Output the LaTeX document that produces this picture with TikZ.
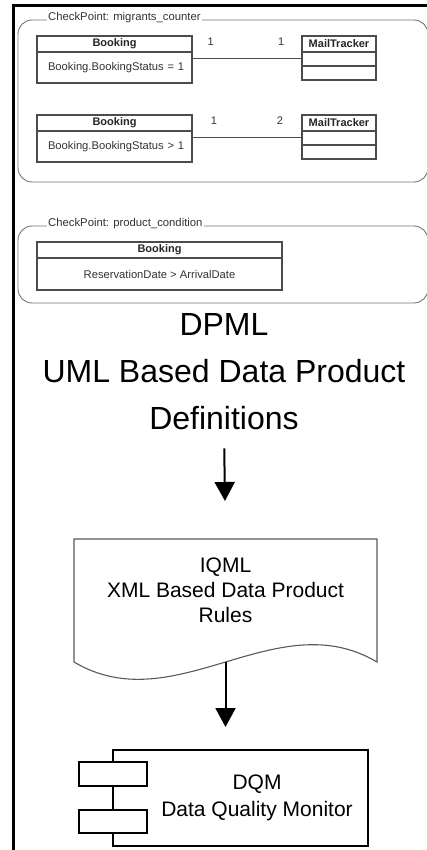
\documentclass[tikz,border=0pt]{standalone}
\usepackage{fontspec}
\setmainfont{Liberation Sans}
\usetikzlibrary{arrows.meta, positioning, calc}

\begin{document}
\begin{tikzpicture}[
    x=1pt, y=-1pt,
    % --- UML class parts ---
    classhead/.style = {rectangle, draw=black!70, line width=1.1pt, fill=white,
        minimum width=#1, minimum height=16pt, inner sep=0pt, outer sep=0pt,
        font=\fontsize{11}{12}\selectfont\bfseries, text=black!85},
    classbody/.style = {rectangle, draw=black!70, line width=1.1pt, fill=white,
        minimum width=#1, minimum height=31pt, inner sep=0pt, outer sep=0pt,
        font=\fontsize{11.2}{13}\selectfont, text=black!80},
    classrow/.style = {rectangle, draw=black!70, line width=1.1pt,
        minimum width=74pt, minimum height=14pt, inner sep=0pt, outer sep=0pt},
    mult/.style = {font=\fontsize{11}{12}\selectfont, text=black!80, yshift=17pt},
    assoc/.style = {draw=black!70, line width=1pt},
    % --- CheckPoint frames ---
    checkpoint/.style = {rectangle, rounded corners=14pt, draw=black!55,
        line width=0.9pt, minimum width=410pt, inner sep=0pt, outer sep=0pt},
    cplabel/.style = {fill=white, inner sep=1pt, anchor=west,
        font=\fontsize{11.3}{12}\selectfont, text=black!80},
    % --- Big blocks ---
    title/.style = {align=center, inner sep=0pt,
        font=\fontsize{32}{47}\selectfont},
    doc/.style = {rectangle, minimum width=303pt, minimum height=103pt,
        inner sep=0pt, outer sep=0pt, align=center,
        font=\fontsize{21}{25}\selectfont},
    docline/.style = {draw=black!65, line width=1.1pt},
    comp/.style = {rectangle, draw=black, line width=2pt, fill=white,
        minimum width=255pt, minimum height=96pt, inner sep=0pt, outer sep=0pt},
    port/.style = {rectangle, draw=black, line width=2pt, fill=white,
        minimum width=68pt, minimum height=24pt, inner sep=0pt, outer sep=0pt},
    comptext/.style = {align=center, inner sep=0pt,
        font=\fontsize{21}{27}\selectfont},
    % --- Arrow style ---
    flow/.style = {line width=2pt, -{Triangle[length=19pt, width=20pt]}}
]

\useasboundingbox (0,0) rectangle (427,850);
\clip (0,0) rectangle (427,850);

% outer border
\draw[line width=3pt] (13,870) -- (13,5.5) -- (440,5.5);

% ==================== CHECKPOINT 1 ====================
\node[checkpoint, minimum height=162pt] (cp1) at (223,101) {};
\node[cplabel] (cp1label) at ($(cp1.north west)+(29,-2)$) {CheckPoint: migrants\_counter};

\node[classhead=155pt] (book1) at (114.5,44) {Booking};
\node[classbody=155pt, below=0pt of book1, text width=133pt, inner xsep=11pt,
    align=left] (book1b) {\mbox{Booking.BookingStatus = 1}};

\node[classhead=74pt] (mail1) at (339,44) {MailTracker};
\node[classrow, below=0pt of mail1] (mail1a) {};
\node[classrow, below=0pt of mail1a] (mail1b) {};

\node[classhead=155pt] (book2) at (114.5,123) {Booking};
\node[classbody=155pt, below=0pt of book2, text width=133pt, inner xsep=11pt,
    align=left] (book2b) {\mbox{Booking.BookingStatus > 1}};

\node[classhead=74pt] (mail2) at (339,123) {MailTracker};
\node[classrow, below=0pt of mail2] (mail2a) {};
\node[classrow, below=0pt of mail2a] (mail2b) {};

\draw[assoc] (mail1a.west -| book1b.east) -- node[mult, pos=0.17] {1}
    node[mult, pos=0.81] {1} (mail1a.west);
\draw[assoc] (mail2a.west -| book2b.east) -- node[mult, pos=0.2] {1}
    node[mult, pos=0.8] {2} (mail2a.west);

% ==================== CHECKPOINT 2 ====================
\node[checkpoint, minimum height=77pt] (cp2) at (223,264.5) {};
\node[cplabel] (cp2label) at ($(cp2.north west)+(29,-2)$) {CheckPoint: product\_condition};

\node[classhead=245pt] (book3) at (159.5,250) {Booking};
\node[classbody=245pt, minimum height=32pt, below=0pt of book3] (book3b)
    {ReservationDate > ArrivalDate};

% ==================== DPML ====================
\node[title] (dpml) at (224,372) {DPML\\UML Based Data Product\\Definitions};

% ==================== IQML ====================
\node[doc] (iqml) at (225.5,590.5) {IQML\\XML Based Data Product\\Rules};
\draw[docline] ([yshift=-20pt]iqml.south west) -- (iqml.north west)
    -- (iqml.north east) -- ([yshift=-20pt]iqml.south east)
    .. controls +(-101,-60) and +(101,60) .. ([yshift=-20pt]iqml.south west);

% ==================== DQM ====================
\node[comp] (dqm) at (240.5,798) {};
\node[port, below=12pt of dqm.north west] (port1) {};
\node[port, above=13pt of dqm.south west, minimum height=23pt] (port2) {};
\node[comptext] (dqmtext) at ([xshift=16.5pt]dqm.center) {DQM\\Data Quality Monitor};

% ==================== ARROWS ====================
\draw[flow, shorten <=18pt, shorten >=38pt] (dpml.south) -- (iqml.north);
\draw[flow, shorten >=23pt] ([yshift=-20pt]iqml.south) -- (iqml.south |- dqm.north);

\end{tikzpicture}
\end{document}
